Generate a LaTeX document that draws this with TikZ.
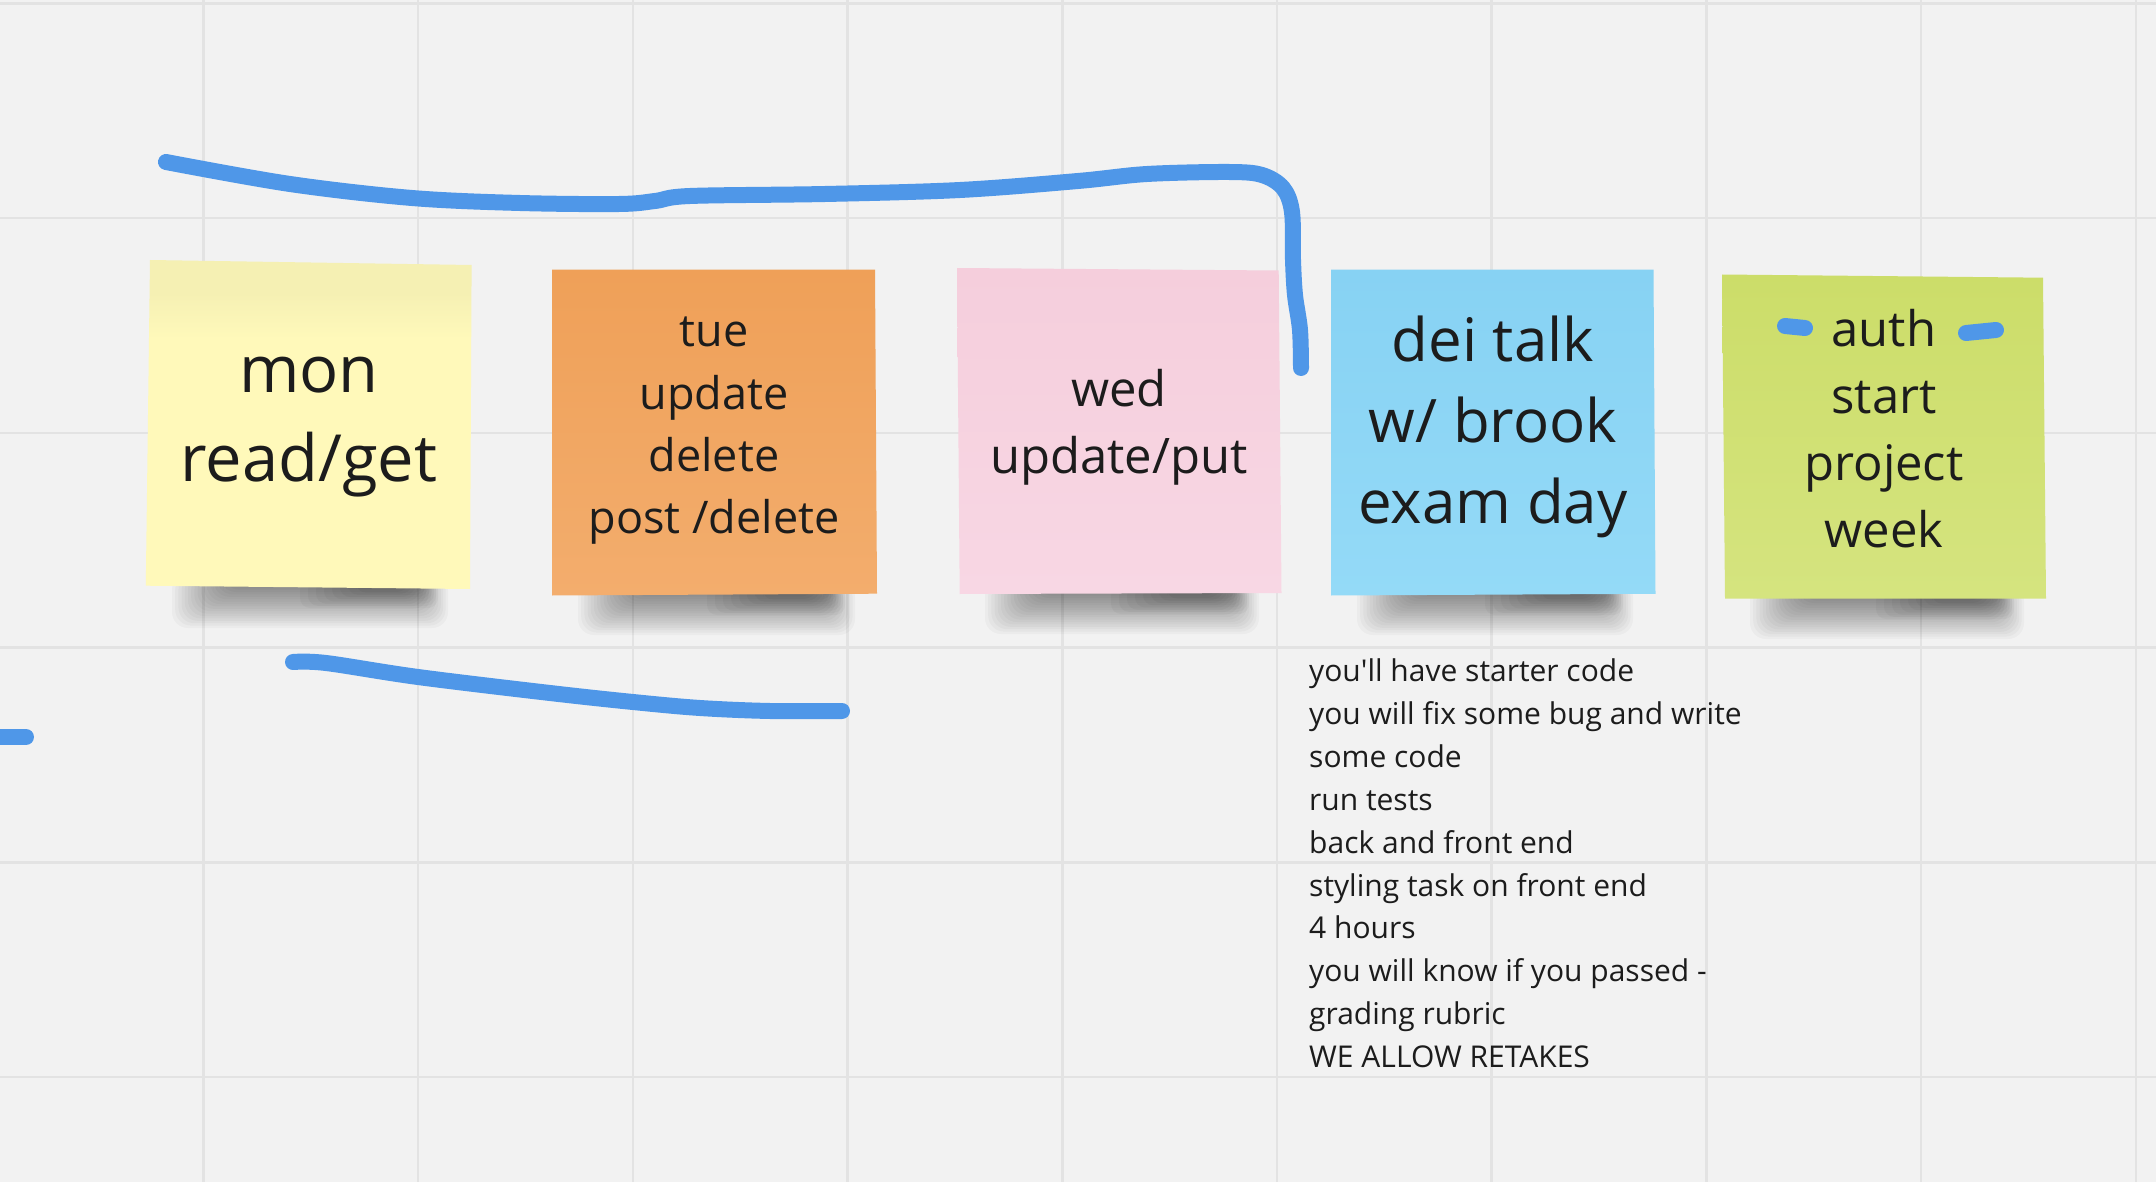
\documentclass[tikz,border=0pt]{standalone}
\usepackage{fontspec}
\setmainfont{Open Sans}
\definecolor{bg}{HTML}{F2F2F2}
\definecolor{gridc}{HTML}{E3E3E3}
\definecolor{blu}{HTML}{4F97E8}
\definecolor{txt}{HTML}{1C1C1C}
\definecolor{ylw}{HTML}{FFF9BA}
\definecolor{ylwtop}{HTML}{F5F0B3}
\definecolor{orT}{HTML}{EFA058}
\definecolor{orB}{HTML}{F3AD6D}
\definecolor{pkT}{HTML}{F5CEDC}
\definecolor{pkB}{HTML}{F8D7E4}
\definecolor{cyT}{HTML}{87D2F3}
\definecolor{cyB}{HTML}{94DAF7}
\definecolor{grT}{HTML}{CCDD69}
\definecolor{grB}{HTML}{D5E47F}
\pgfdeclareverticalshading{ylwshade}{100bp}{color(0bp)=(ylw); color(25bp)=(ylw); color(63bp)=(ylw); color(70bp)=(ylwtop); color(75bp)=(ylwtop); color(100bp)=(ylwtop)}
\newcommand\notesh[3]{%
  \foreach \k in {0,...,17}{%
    \fill[black,opacity=0.028,rounded corners=16] ({#1+26+3.2*\k},{#3-14}) rectangle ({#2-22-2.4*\k},{#3+40-2.4*\k});}%
  \foreach \k in {0,...,7}{%
    \fill[black,opacity=0.03,rounded corners=10] ({#2-170+8*\k},{#3-8}) rectangle ({#2-32-2*\k},{#3+20-2.2*\k});}%
}
\begin{document}
\begin{tikzpicture}[x=1pt,y=-1pt,
  gridline/.style={draw=gridc,line width=2.5pt},
  pen/.style={draw=blu,line width=16pt,line cap=round,line join=round},
  stxt/.style={anchor=base,inner sep=0pt,text=txt}]
\useasboundingbox (0,0) rectangle (2156,1182);
\fill[bg] (0,0) rectangle (2156,1182);
% grid
\foreach \i in {0,...,9} \draw[gridline] ({203.5+214.7*\i},0) -- ({203.5+214.7*\i},1182);
\foreach \j in {0,...,5} \draw[gridline] (0,{3.5+214.7*\j}) -- (2156,{3.5+214.7*\j});
% shadows
\notesh{146}{470}{588}
\notesh{552}{877}{595}
\notesh{959}{1281}{594}
\notesh{1331}{1655}{595}
\notesh{1724}{2046}{599}
% sticky notes
\shade[shading=ylwshade] (150,260) -- (471.6,265) -- (470,589) -- (145.8,585.7) -- cycle;
\shade[top color=orT,bottom color=orB] (552,269.6) -- (875,269.6) -- (877,593.7) -- (552,595.5) -- cycle;
\shade[top color=pkT,bottom color=pkB] (957,268) -- (1278.7,270.5) -- (1281.5,593) -- (959.7,594) -- cycle;
\shade[top color=cyT,bottom color=cyB] (1331,269.6) -- (1653.5,269.6) -- (1655.5,593.8) -- (1331,595.5) -- cycle;
\shade[top color=grT,bottom color=grB] (1722,274.5) -- (2043,277.7) -- (2046,598.7) -- (1725,598.7) -- cycle;
% texts
\node[stxt,font=\fontsize{65}{88.6}\selectfont] (mon) at (309,392.5) {\begin{tabular}[t]{@{}c@{}}mon\\read/get\end{tabular}};
\node[stxt,font=\fontsize{45}{62.2}\selectfont] (tue) at (714,347) {\begin{tabular}[t]{@{}c@{}}tue\\update\\delete\\post /delete\end{tabular}};
\node[stxt,font=\fontsize{49}{67}\selectfont] (wed) at (1119,406.5) {\begin{tabular}[t]{@{}c@{}}wed\\update/put\end{tabular}};
\node[stxt,font=\fontsize{60}{81}\selectfont] (dei) at (1493,362) {\begin{tabular}[t]{@{}c@{}}dei talk\\w/ brook\\exam day\end{tabular}};
\node[stxt,font=\fontsize{49}{67}\selectfont] (auth) at (1884,347) {\begin{tabular}[t]{@{}c@{}}auth\\start\\project\\week\end{tabular}};
\node[anchor=base west,inner sep=0pt,text=txt,font=\fontsize{30}{42.9}\selectfont] (examnotes) at (1309,681.5) {\begin{tabular}[t]{@{}l@{}}you\textquotesingle ll have starter code\\you will fix some bug and write\\some code\\run tests\\back and front end\\styling task on front end\\4 hours\\you will know if you passed -\\grading rubric\\WE ALLOW RETAKES\end{tabular}};
% pen strokes
\draw[pen] plot[smooth,tension=0.55] coordinates {(166,162) (290,184) (412,198) (520,203) (619,204) (655,201) (690,196) (825,194) (960,190) (1078,181) (1147,174) (1229,172) (1262,175) (1283,188) (1292,212) (1293,260) (1295,295) (1300,330) (1301,368)};
\draw[pen] plot[smooth,tension=0.55] coordinates {(293,662) (326,663) (418,677) (550,693) (633,702) (700,708) (770,711) (842,711)};
\draw[pen] (-12,737) -- (26,737);
\draw[pen] (1785,326) -- (1805,328);
\draw[pen] (1966,333) -- (1996,330);
\end{tikzpicture}
\end{document}
